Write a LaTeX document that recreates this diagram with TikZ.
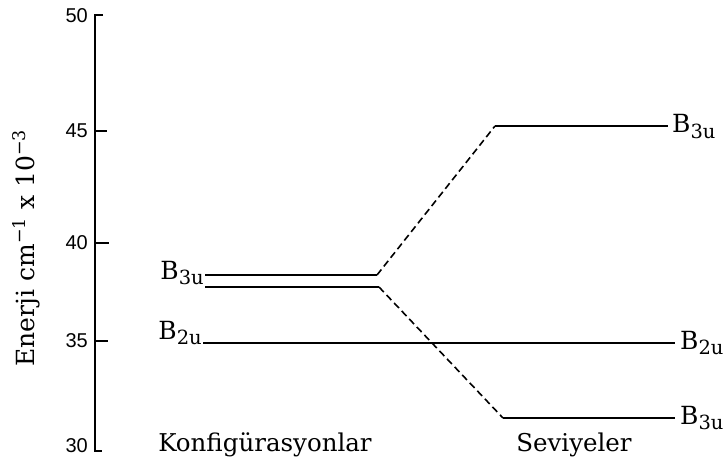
\documentclass[tikz,border=0pt]{standalone}
\usepackage{fontspec}
\setmainfont{DejaVu Serif}
\newfontfamily\ticksfont{Liberation Sans}
\newcommand{\stt}[2]{#1\raisebox{-0.45ex}{\fontsize{19.5}{19.5}\selectfont #2}}
\begin{document}
\begin{tikzpicture}[x=1pt,y=-1pt,
  axisline/.style={line width=1.8pt},
  level/.style={line width=1.8pt},
  corr/.style={line width=1.6pt, dash pattern=on 7pt off 4pt},
  ticklab/.style={font=\ticksfont\fontsize{20}{20}\selectfont, anchor=east, inner sep=0pt},
  statelab/.style={font=\fontsize{25}{25}\selectfont, inner sep=0pt},
  colhead/.style={font=\fontsize{24.5}{24.5}\selectfont, inner sep=0pt, anchor=base}]
\useasboundingbox (0,0) rectangle (726,468);

% energy axis
\coordinate (atop) at (95,15);
\coordinate (abot) at (95,451);
\draw[axisline] (103,15) -- (atop) -- (abot) -- (102,451);
\foreach \v/\y/\len in {45/131/107, 40/243/109, 35/341/108}
  \draw[axisline] (95,\y) -- (\len,\y);
\foreach \v/\y in {50/16, 45/131, 40/243, 35/341, 30/446}
  \node[ticklab] (t\v) at (88,\y) {\v};
\node[font=\fontsize{25}{25}\selectfont, rotate=90] (ylab) at (26,248)
  {Enerji cm\textsuperscript{−1} x 10\textsuperscript{−3}};

% configuration levels
\coordinate (c1a) at (205,275); \coordinate (c1b) at (377,275);
\coordinate (c2a) at (205,287); \coordinate (c2b) at (379,287);
\coordinate (bla) at (203,343); \coordinate (blb) at (675,343);
% resulting levels
\coordinate (s1a) at (495,126); \coordinate (s1b) at (668,126);
\coordinate (s2a) at (503,418); \coordinate (s2b) at (675,418);

\draw[level] (c1a) -- (c1b);
\draw[level] (c2a) -- (c2b);
\draw[level] (bla) -- (blb);
\draw[level] (s1a) -- (s1b);
\draw[level] (s2a) -- (s2b);
\draw[corr] (c1b) -- (s1a);
\draw[corr] (c2b) -- (s2a);

% state labels
\node[statelab, anchor=base east] (lb3) at (204,279) {\stt{B}{3u}};
\node[statelab, anchor=base east] (lb2) at (202,339) {\stt{B}{2u}};
\node[statelab, anchor=base west] (rb3t) at (672,133) {\stt{B}{3u}};
\node[statelab, anchor=base west] (rb2) at (680,349) {\stt{B}{2u}};
\node[statelab, anchor=base west] (rb3b) at (680,424) {\stt{B}{3u}};

% column headings
\node[colhead] (konf) at (265,451) {Konfigürasyonlar};
\node[colhead] (sev) at (574,451) {Seviyeler};
\end{tikzpicture}
\end{document}
